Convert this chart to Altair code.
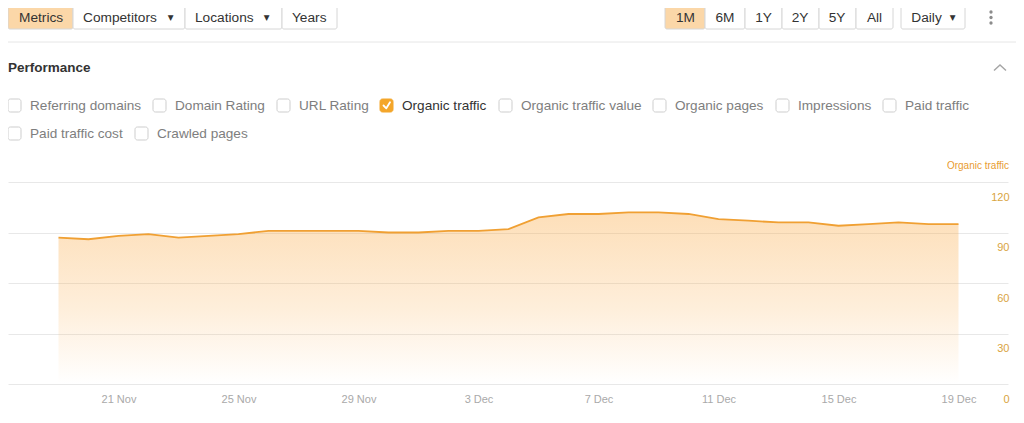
import altair as alt
import pandas as pd

# ---------------- chart data ----------------
dates = [
    "2023-11-19", "2023-11-20", "2023-11-21", "2023-11-22", "2023-11-23", "2023-11-24",
    "2023-11-25", "2023-11-26", "2023-11-27", "2023-11-28", "2023-11-29", "2023-11-30",
    "2023-12-01", "2023-12-02", "2023-12-03", "2023-12-04", "2023-12-05", "2023-12-06",
    "2023-12-07", "2023-12-08", "2023-12-09", "2023-12-10", "2023-12-11", "2023-12-12",
    "2023-12-13", "2023-12-14", "2023-12-15", "2023-12-16", "2023-12-17", "2023-12-18",
    "2023-12-19",
]
organic_traffic = [
    87, 86, 88, 89, 87, 88, 89, 91, 91, 91, 91, 90,
    90, 91, 91, 92, 99, 101, 101, 102, 102, 101, 98, 97,
    96, 96, 94, 95, 96, 95, 95,
]
x_tick_dates = ["2023-11-21", "2023-11-25", "2023-11-29", "2023-12-03",
                "2023-12-07", "2023-12-11", "2023-12-15", "2023-12-19"]
y_ticks = [0, 30, 60, 90, 120]
series_name = "Organic traffic"

# ---------------- UI texts ----------------
left_buttons = ["Metrics", "Competitors", "Locations", "Years"]
range_buttons = ["1M", "6M", "1Y", "2Y", "5Y", "All"]
interval_button = "Daily"
section_title = "Performance"
metrics_row1 = ["Referring domains", "Domain Rating", "URL Rating", "Organic traffic",
                "Organic traffic value", "Organic pages", "Impressions", "Paid traffic"]
metrics_row2 = ["Paid traffic cost", "Crawled pages"]
checked_metric = "Organic traffic"

# ---------------- layout (page pixels) ----------------
OX, OY = 8, 182            # plot origin on the page
def rx(v): return v - OX
def ry(v): return v - OY

FONT = "Liberation Sans"
ORANGE = "#f0a033"
PEACH = "#fbd7a8"
BORDER = "#d6d6d6"

left_edges = [8, 73, 185, 282, 337]
left_text_x = [19, 83, 195, 292]
left_arrow_x = [170.7, 266.7]
range_edges = [665, 705, 745, 782, 819, 856, 893]
range_text_x = [685.5, 725, 763.5, 800, 837, 874.5]
daily_edges = [901, 965]
daily_text_x = 911.3
daily_arrow_x = 952.7
btn_top, btn_bot, btn_mid = 5.5, 29, 17.5

row1_y, row2_y = 105.5, 133.5
row1_box_x = [8, 153, 277, 380, 499, 653, 776, 883]
row2_box_x = [8, 135]
box_size = 13
label_gap = 22

# ---------------- plot ----------------
def ms(s):
    return int(pd.Timestamp(s, tz="UTC").timestamp() * 1000)

x_domain = [ms("2023-11-17T07:36"), ms("2023-12-20T15:36")]
x_values = [ms(d) for d in x_tick_dates]

df = pd.DataFrame({"date": dates, "value": organic_traffic})

gradient = alt.Gradient(
    gradient="linear",
    stops=[
        alt.GradientStop(color="rgba(250,170,70,0.38)", offset=0),
        alt.GradientStop(color="rgba(250,170,70,0.20)", offset=0.55),
        alt.GradientStop(color="rgba(250,170,70,0.0)", offset=1),
    ],
    x1=1, x2=1, y1=0, y2=1,
)

x_enc = alt.X(
    "date:T",
    scale=alt.Scale(type="utc", domain=x_domain),
    axis=alt.Axis(values=x_values, labelExpr="utcFormat(datum.value, '%-d %b')",
                  grid=False, ticks=False, domain=False, labelColor="#a9a9a9",
                  labelFontSize=11, labelFont=FONT, labelPadding=9,
                  labelFlush=False, labelOverlap=False, title=None),
)
y_enc = alt.Y(
    "value:Q",
    scale=alt.Scale(domain=[0, 120], nice=False),
    axis=alt.Axis(orient="right", values=y_ticks, grid=True, gridColor="#e8e8e8",
                  ticks=False, tickSize=0, domain=False, labelAlign="right",
                  labelBaseline="middle", labelPadding=1, labelOffset=15,
                  labelColor="#d9a441", labelFontSize=11, labelFont=FONT, title=None),
)

area = alt.Chart(df).mark_area(color=gradient).encode(x=x_enc, y=y_enc)
line = alt.Chart(df).mark_line(color=ORANGE, strokeWidth=1.8).encode(x="date:T", y="value:Q")

# ---------------- UI helpers ----------------
PX = lambda f: alt.X(f, scale=None, axis=None)
PY = lambda f: alt.Y(f, scale=None, axis=None)

def text_layer(rows, align, font=FONT, weight="normal"):
    d = pd.DataFrame(rows, columns=["x", "y", "label", "color", "size"])
    d["x"] = d["x"].map(rx)
    d["y"] = d["y"].map(ry)
    return alt.Chart(d).mark_text(align=align, baseline="middle", font=font,
                                  fontWeight=weight).encode(
        x=PX("x:Q"), y=PY("y:Q"), text="label:N",
        color=alt.Color("color:N", scale=None),
        size=alt.Size("size:Q", scale=None),
    )

# button / checkbox rectangles
rect_rows = []
for i in range(len(left_buttons)):
    rect_rows.append((left_edges[i], left_edges[i + 1], btn_top, btn_bot,
                      PEACH if i == 0 else "#ffffff", BORDER))
for i in range(len(range_buttons)):
    rect_rows.append((range_edges[i], range_edges[i + 1], btn_top, btn_bot,
                      PEACH if i == 0 else "#ffffff", BORDER))
rect_rows.append((daily_edges[0], daily_edges[1], btn_top, btn_bot, "#ffffff", BORDER))
rects = pd.DataFrame(rect_rows, columns=["x", "x2", "y", "y2", "fill", "stroke"])
for c in ["x", "x2"]:
    rects[c] = rects[c].map(rx)
for c in ["y", "y2"]:
    rects[c] = rects[c].map(ry)
buttons = alt.Chart(rects).mark_rect(cornerRadius=2, strokeWidth=1).encode(
    x=PX("x:Q"), x2="x2:Q", y=PY("y:Q"), y2="y2:Q",
    fill=alt.Fill("fill:N", scale=None), stroke=alt.Stroke("stroke:N", scale=None))

box_rows = []
for lbl, bx in zip(metrics_row1, row1_box_x):
    chk = lbl == checked_metric
    box_rows.append((bx, bx + box_size, row1_y - box_size / 2, row1_y + box_size / 2,
                     "#f4a62a" if chk else "#ffffff", "#f4a62a" if chk else "#cdcdcd"))
for lbl, bx in zip(metrics_row2, row2_box_x):
    box_rows.append((bx, bx + box_size, row2_y - box_size / 2, row2_y + box_size / 2,
                     "#ffffff", "#cdcdcd"))
boxes_df = pd.DataFrame(box_rows, columns=["x", "x2", "y", "y2", "fill", "stroke"])
for c in ["x", "x2"]:
    boxes_df[c] = boxes_df[c].map(rx)
for c in ["y", "y2"]:
    boxes_df[c] = boxes_df[c].map(ry)
boxes = alt.Chart(boxes_df).mark_rect(cornerRadius=2.5, strokeWidth=1).encode(
    x=PX("x:Q"), x2="x2:Q", y=PY("y:Q"), y2="y2:Q",
    fill=alt.Fill("fill:N", scale=None), stroke=alt.Stroke("stroke:N", scale=None))

# check mark inside the checked box
cb = row1_box_x[metrics_row1.index(checked_metric)]
check_df = pd.DataFrame({"x": [rx(cb + 3.5), rx(cb + 6.3), rx(cb + 10)],
                         "y": [ry(row1_y), ry(row1_y + 2.8), ry(row1_y - 3.2)],
                         "i": [0, 1, 2]})
check = alt.Chart(check_df).mark_line(color="white", strokeWidth=1.8,
                                      strokeCap="round", strokeJoin="round").encode(
    x=PX("x:Q"), y=PY("y:Q"), order="i:Q")

# collapse chevron
chev_df = pd.DataFrame({"x": [rx(994), rx(1000), rx(1006)],
                        "y": [ry(70.5), ry(65), ry(70.5)], "i": [0, 1, 2]})
chevron = alt.Chart(chev_df).mark_line(color="#a5a5a5", strokeWidth=1.4).encode(
    x=PX("x:Q"), y=PY("y:Q"), order="i:Q")

# kebab dots
dots_df = pd.DataFrame({"x": [rx(991)] * 3, "y": [ry(12), ry(17.5), ry(23)]})
dots = alt.Chart(dots_df).mark_circle(color="#8c8c8c", opacity=1, size=11).encode(
    x=PX("x:Q"), y=PY("y:Q"))

# divider line
div_df = pd.DataFrame({"x": [rx(8)], "x2": [rx(1024)], "y": [ry(42)]})
divider = alt.Chart(div_df).mark_rule(color="#e6e6e6", strokeWidth=1).encode(
    x=PX("x:Q"), x2="x2:Q", y=PY("y:Q"))

# texts
btn_size = 13.7
left_txt = text_layer(
    [(x, btn_mid, t, "#333333", btn_size) for x, t in zip(left_text_x, left_buttons)]
    + [(daily_text_x, btn_mid, interval_button, "#333333", btn_size)]
    + [(8, 67.5, section_title, "#333333", 13.5)][:0]
    + [(bx + label_gap, row1_y, t, "#333333" if t == checked_metric else "#7e7e7e", 13.6)
       for bx, t in zip(row1_box_x, metrics_row1)]
    + [(bx + label_gap, row2_y, t, "#7e7e7e", 13.6) for bx, t in zip(row2_box_x, metrics_row2)],
    "left")
title_txt = text_layer([(8, 67.5, section_title, "#333333", 13.5)], "left", weight="bold")
center_txt = text_layer(
    [(x, btn_mid, t, "#333333", btn_size) for x, t in zip(range_text_x, range_buttons)],
    "center")
arrows = text_layer(
    [(x, btn_mid + 0.5, "▼", "#333333", 7.5) for x in left_arrow_x + [daily_arrow_x]],
    "center", font="DejaVu Sans")
series_title = text_layer([(1009, 166, series_name, "#e89c30", 10)], "right")

chart = alt.layer(
    area, line,
    divider, buttons, boxes, check, chevron, dots,
    left_txt, title_txt, center_txt, arrows, series_title,
).properties(
    width=1000, height=202,
    padding={"left": 0, "top": 174, "right": 8, "bottom": 24},
    autosize=alt.AutoSizeParams(type="none"),
).configure_view(stroke=None)

chart.save("out.html", embed_options={"renderer": "svg", "actions": False})
